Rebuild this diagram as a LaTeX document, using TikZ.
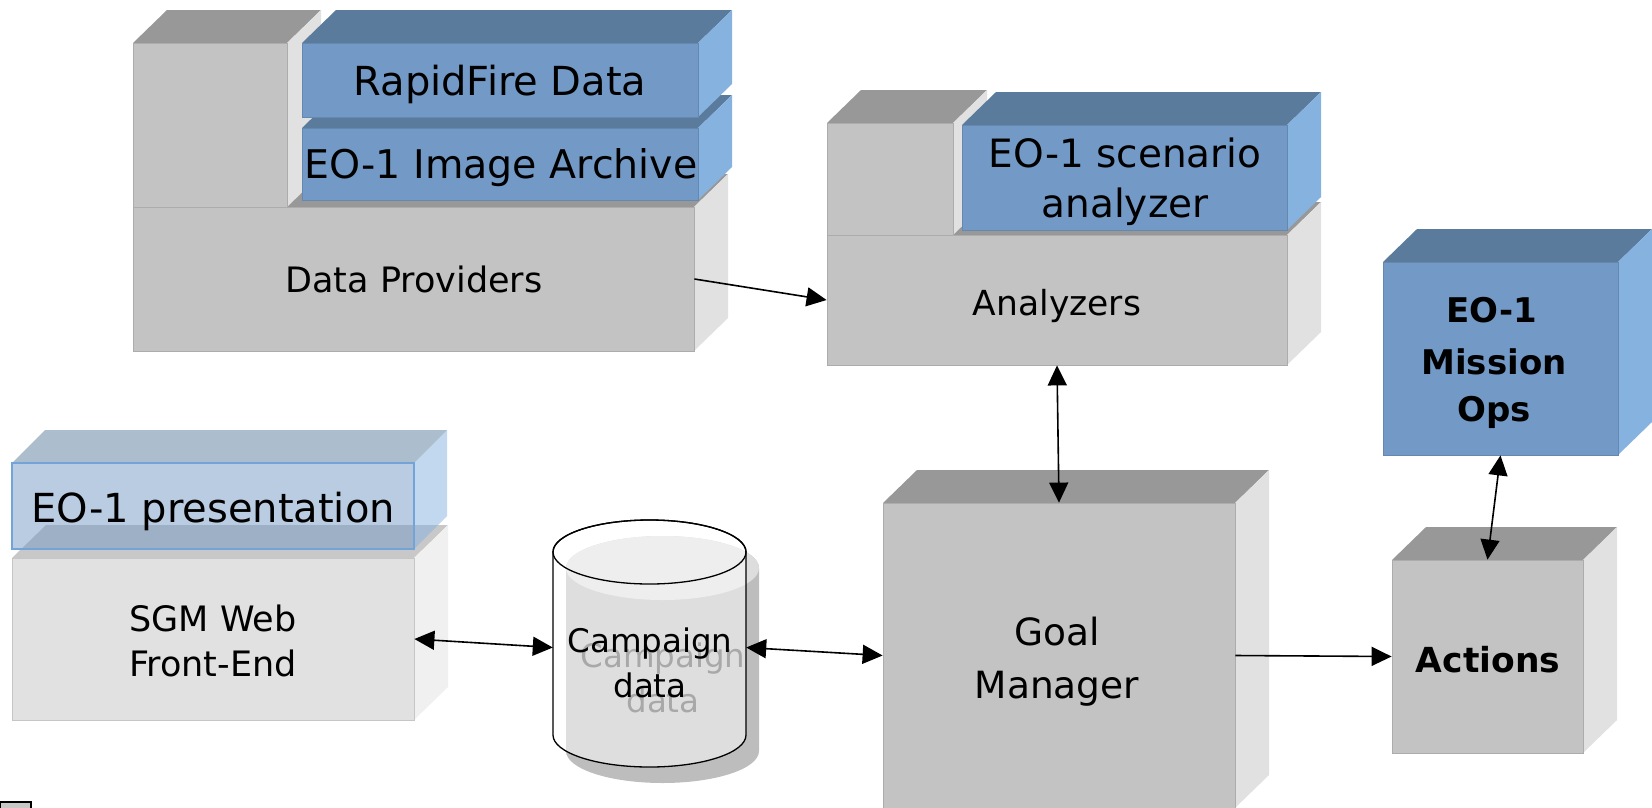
\documentclass[tikz,border=0pt]{standalone}
\usepackage{fontspec}
\setmainfont{DejaVu Sans}
\usetikzlibrary{arrows.meta,calc}
\definecolor{gfront}{HTML}{C3C3C3}
\definecolor{gtop}{HTML}{989898}
\definecolor{gside}{HTML}{E1E1E1}
\definecolor{bfront}{HTML}{739AC6}
\definecolor{btop}{HTML}{5A7B9B}
\definecolor{bside}{HTML}{86B2E0}
\definecolor{lfront}{HTML}{E1E1E1}
\definecolor{ltop}{HTML}{C8C8C8}
\definecolor{lside}{HTML}{F0F0F0}
\definecolor{pborder}{HTML}{74A3D8}
\definecolor{shadowc}{HTML}{BDBDBD}
\definecolor{shadowtop}{HTML}{DDDDDD}
\definecolor{ghosttext}{HTML}{A8A8A8}
\newcommand\fs[1]{\fontsize{#1}{#1}\selectfont}
% name, x1, y1, x2, y2, front, top, side
\newcommand\cubebox[8]{%
  \fill[#7] (#2,#3) -- (#2+34,#3-33) -- (#4+34,#3-33) -- (#4,#3) -- cycle;
  \fill[#8] (#4,#3) -- (#4+34,#3-33) -- (#4+34,#5-33) -- (#4,#5) -- cycle;
  \node[fill=#6, draw=#6!88!black, line width=0.8pt, inner sep=0pt,
        minimum width={(#4-#2)*1pt}, minimum height={(#5-#3)*1pt}]
        (#1) at ({(#2+#4)/2},{(#3+#5)/2}) {};
}
\tikzset{
  lbl/.style={anchor=base, inner sep=0pt},
  arr/.style={-{Triangle[length=20pt,width=19pt]}, line width=1.6pt},
  darr/.style={{Triangle[length=20pt,width=19pt]}-{Triangle[length=20pt,width=19pt]}, line width=1.6pt}
}
\begin{document}
\begin{tikzpicture}[x=1pt,y=-1pt]
\useasboundingbox (0,0) rectangle (1652,807);

% ---------- Data Providers group ----------
\cubebox{dp}{133}{207}{694}{351}{gfront}{gtop}{gside}
\cubebox{dpleft}{133}{43}{287}{207}{gfront}{gtop}{gside}
\cubebox{archive}{302}{128}{698}{200}{bfront}{btop}{bside}
\cubebox{rapid}{302}{43}{698}{117}{bfront}{btop}{bside}
\node[lbl, font=\fs{40}] (trapid) at (500,95) {RapidFire Data};
\node[lbl, font=\fs{39.5}] (tarchive) at (501,178) {EO-1 Image Archive};
\node[lbl, font=\fs{35}] (tdp) at (414,292) {Data Providers};

% ---------- Analyzers group ----------
\cubebox{an}{827}{235}{1287}{365}{gfront}{gtop}{gside}
\cubebox{anleft}{827}{123}{953}{235}{gfront}{gtop}{gside}
\cubebox{scen}{962}{125}{1287}{230}{bfront}{btop}{bside}
\node[lbl, font=\fs{39}] (tscen1) at (1125,167) {EO-1 scenario};
\node[lbl, font=\fs{39}] (tscen2) at (1125,217) {analyzer};
\node[lbl, font=\fs{34.5}] (tan) at (1057,315) {Analyzers};

% ---------- Mission Ops ----------
\cubebox{mission}{1383}{262}{1618}{455}{bfront}{btop}{bside}
\node[lbl, font=\fs{34}\bfseries] (tm1) at (1492,322) {EO-1};
\node[lbl, font=\fs{34}\bfseries] (tm2) at (1494,374) {Mission};
\node[lbl, font=\fs{34}\bfseries] (tm3) at (1494,421) {Ops};

% ---------- Actions ----------
\cubebox{act}{1392}{560}{1583}{753}{gfront}{gtop}{gside}
\node[lbl, font=\fs{34.5}\bfseries] (tact) at (1488,672) {Actions};

% ---------- Goal Manager ----------
\cubebox{goal}{883}{503}{1235}{808}{gfront}{gtop}{gside}
\node[lbl, font=\fs{37.5}] (tgoal1) at (1057,645) {Goal};
\node[lbl, font=\fs{37.5}] (tgoal2) at (1057,698) {Manager};

% ---------- SGM Web Front-End ----------
\cubebox{sgm}{12}{558}{414}{720}{lfront}{ltop}{lside}
\begin{scope}[fill opacity=0.5]
  \fill[btop] (12,463) -- (45,430) -- (447,430) -- (414,463) -- cycle;
  \fill[bside] (414,463) -- (447,430) -- (447,516) -- (414,549) -- cycle;
\end{scope}
\node[fill=bfront, fill opacity=0.5, draw=pborder, line width=1.4pt, inner sep=0pt,
      minimum width=402pt, minimum height=86pt] (pres) at (213,506) {};
\node[lbl, font=\fs{40}] (tpres) at (213,522) {EO-1 presentation};
\node[lbl, font=\fs{35}] (tsgm1) at (213,631) {SGM Web};
\node[lbl, font=\fs{35}] (tsgm2) at (213,676) {Front-End};

% ---------- Campaign data cylinder ----------
\fill[shadowc] (566,568) -- (566,751)
   arc[start angle=180, end angle=360, x radius=96.5pt, y radius=32pt]
   -- (759,568)
   arc[start angle=0, end angle=180, x radius=96.5pt, y radius=32pt] -- cycle;
\fill[shadowtop] (662.5,568) ellipse [x radius=96.5pt, y radius=32pt];
\filldraw[fill=white, fill opacity=0.5, draw=black, line width=1.3pt]
   (553,552) -- (553,735)
   arc[start angle=180, end angle=360, x radius=96.5pt, y radius=32pt]
   -- (746,552)
   arc[start angle=0, end angle=180, x radius=96.5pt, y radius=32pt] -- cycle;
\draw[line width=1.3pt] (649.5,552) ellipse [x radius=96.5pt, y radius=32pt];
\node[inner sep=0pt, minimum width=193pt, minimum height=247pt] (camp) at (649.5,643.5) {};
\node[lbl, font=\fs{32.5}, text=ghosttext] (tcg1) at (663,667) {Campaign};
\node[lbl, font=\fs{32.5}, text=ghosttext] (tcg2) at (663,712) {data};
\node[lbl, font=\fs{32.5}] (tc1) at (650,652) {Campaign};
\node[lbl, font=\fs{32.5}] (tc2) at (650,697) {data};

% ---------- small cut-off box ----------
\filldraw[fill=ltop, draw=black, line width=1.5pt] (0,802) rectangle (31,815);

% ---------- connectors ----------
\draw[arr] (dp.east) -- (an.west);
\draw[darr] (an.south) -- (goal.north);
\draw[darr] (sgm.east) -- ([yshift=-4pt]camp.west);
\draw[darr] ([yshift=-4pt]camp.east) -- (goal.west);
\draw[arr] (goal.east) -- (act.west);
\draw[darr] (mission.south) -- (act.north);
\end{tikzpicture}
\end{document}
